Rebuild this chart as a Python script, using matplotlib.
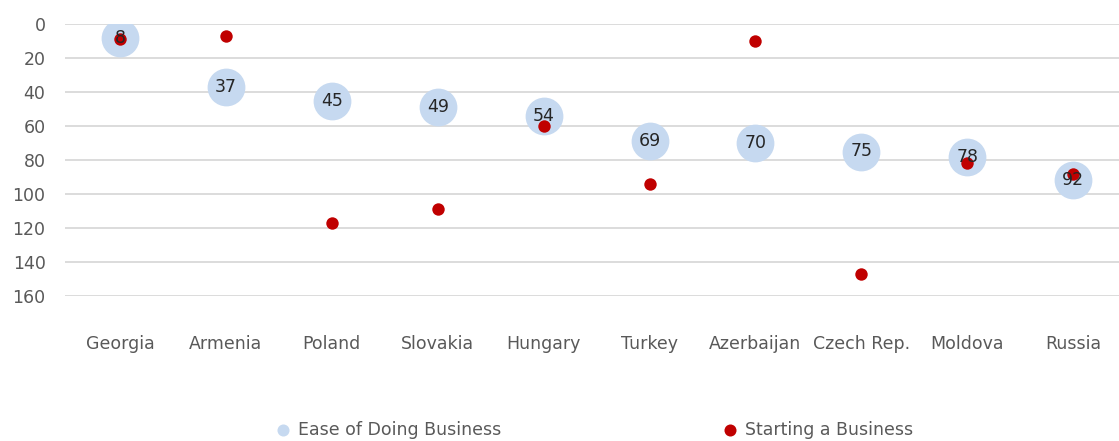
import matplotlib
matplotlib.use("Agg")
import matplotlib.pyplot as plt

countries = ["Georgia", "Armenia", "Poland", "Slovakia", "Hungary", "Turkey",
             "Azerbaijan", "Czech Rep.", "Moldova", "Russia"]
ease_rank = [8, 37, 45, 49, 54, 69, 70, 75, 78, 92]
start_rank = [9, 7, 117, 109, 60, 94, 10, 147, 82, 88]
y_ticks = [0, 20, 40, 60, 80, 100, 120, 140, 160]

plt.rcParams['font.family'] = ['DejaVu Sans']

W, H = 1119, 441
fig = plt.figure(figsize=(W / 100, H / 100), dpi=100)
left_px, right_px, top_px, bot_px = 65, 1119, 24, 296
ax = fig.add_axes([left_px / W, 1 - bot_px / H, (right_px - left_px) / W, (bot_px - top_px) / H])

x = list(range(len(countries)))
ax.scatter(x, ease_rank, s=740, color='#c6d9f0', zorder=3, linewidths=0,
           label='Ease of Doing Business')
ax.scatter(x, start_rank, s=80, color='#c00000', zorder=4, linewidths=0,
           label='Starting a Business')
for xi, v in zip(x, ease_rank):
    ax.text(xi, v, str(v), ha='center', va='center', fontsize=12.5,
            color='#262626', zorder=5)

step = 105.9
x0px = 120
ax.set_xlim((left_px - x0px) / step, (right_px - x0px) / step)
ax.set_ylim(160, 0)
ax.set_yticks(y_ticks)
ax.set_xticks(x)
ax.set_xticklabels(countries)
ax.grid(axis='y', color='#d9d9d9', linewidth=1.3)
ax.set_axisbelow(True)
for s in ax.spines.values():
    s.set_visible(False)
ax.tick_params(axis='y', length=0, pad=14, labelsize=12.5, labelcolor='#595959')
ax.tick_params(axis='x', length=0, pad=28, labelsize=12.5, labelcolor='#595959')

handles, labels = ax.get_legend_handles_labels()
leg = fig.legend(handles, labels, loc='center', bbox_to_anchor=(594 / W, 1 - 430 / H),
                 ncol=2, frameon=False, fontsize=12.5, columnspacing=12.7,
                 handletextpad=0.35, labelcolor='#595959', handlelength=1.0)
for h in leg.legend_handles:
    h.set_sizes([75])

fig.savefig("out.png", dpi=100)
